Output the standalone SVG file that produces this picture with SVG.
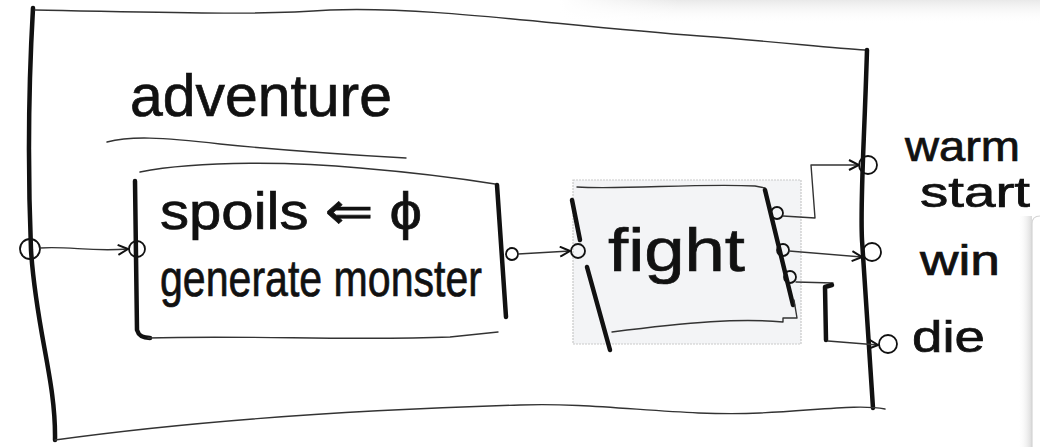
<svg xmlns="http://www.w3.org/2000/svg" width="1040" height="447" viewBox="0 0 1040 447">
<defs>
<linearGradient id="topShade" x1="0" y1="0" x2="0" y2="1">
<stop offset="0" stop-color="#e9e9e9"/>
<stop offset="1" stop-color="#ffffff" stop-opacity="0"/>
</linearGradient>
<linearGradient id="topFade" x1="0" y1="0" x2="1" y2="0">
<stop offset="0" stop-color="#fff" stop-opacity="1"/>
<stop offset="0.25" stop-color="#fff" stop-opacity="0"/>
</linearGradient>
<linearGradient id="sideShade" x1="0" y1="0" x2="1" y2="0">
<stop offset="0" stop-color="#ffffff" stop-opacity="0"/>
<stop offset="1" stop-color="#d9d9d9"/>
</linearGradient>
<marker id="arr" viewBox="0 0 12 12" refX="11" refY="6" markerWidth="12" markerHeight="12" markerUnits="userSpaceOnUse" orient="auto">
<path d="M1,1 L11,6 L1,11" fill="none" stroke="#111" stroke-width="2"/>
</marker>
<style>
.thick{fill:none;stroke:#111;stroke-width:4.5;stroke-linecap:round;stroke-linejoin:round}
.thin{fill:none;stroke:#333;stroke-width:1.4;stroke-linecap:round;stroke-linejoin:round}
.port{fill:none;stroke:#111;stroke-width:1.8}
.hand{font-family:"Liberation Sans","DejaVu Sans",sans-serif;fill:#111;stroke:#111;stroke-width:0.7}
</style>
</defs>
<rect width="1040" height="447" fill="#fff"/>
<rect x="560" y="0" width="480" height="24" fill="url(#topShade)"/>
<rect x="560" y="0" width="480" height="24" fill="url(#topFade)"/>
<rect x="1018" y="216" width="14" height="231" fill="url(#sideShade)"/>
<path d="M1032,447 L1032,224 Q1032,216 1040,216" fill="#fff" stroke="#d4d4d4" stroke-width="1.2"/>

<g id="adventure">
<path class="thick" d="M33,8 C30,60 27,150 31,250 C36,330 56,380 55,440"/>
<path class="thin" d="M35,10 C150,12 250,16 330,10 C430,6 560,26 700,36 C780,42 830,48 865,50"/>
<path class="thick" d="M867,50 C864,150 860,200 862,240 C866,300 870,360 873,408"/>
<path class="thin" d="M55,440 C200,420 350,410 520,405 C600,402 680,417 760,413 C820,410 860,404 885,409"/>
<text class="hand" x="130" y="116" font-size="60" textLength="262" lengthAdjust="spacingAndGlyphs">adventure</text>
<path class="thin" d="M107,142 C130,136 160,137 220,144 C300,152 370,156 406,158"/>
<circle id="port-in" class="port" cx="30" cy="249" r="10"/>
<circle id="port-warm" class="port" cx="868" cy="165" r="9"/>
<circle id="port-win" class="port" cx="872" cy="252" r="9"/>
<circle id="port-die" class="port" cx="888" cy="344" r="9"/>
<text class="hand" x="905" y="161" font-size="42" textLength="115" lengthAdjust="spacingAndGlyphs">warm</text>
<text class="hand" x="920" y="207" font-size="42" textLength="110" lengthAdjust="spacingAndGlyphs">start</text>
<text class="hand" x="920" y="275" font-size="42" textLength="80" lengthAdjust="spacingAndGlyphs">win</text>
<text class="hand" x="912" y="352" font-size="44" textLength="73" lengthAdjust="spacingAndGlyphs">die</text>
</g>

<g id="init">
<path class="thin" d="M140,172 C200,160 300,162 360,168 C420,173 470,180 495,184"/>
<path class="thick" d="M135,181 L137,330 C139,337 144,338 150,338"/>
<path class="thin" d="M148,338 C250,335 350,341 450,337 L498,332"/>
<path class="thick" d="M497,185 L506,317"/>
<circle class="port" cx="137" cy="249" r="8"/>
<circle class="port" cx="512" cy="254" r="6"/>
<text class="hand" x="160" y="229" font-size="52" textLength="262" lengthAdjust="spacingAndGlyphs">spoils ⇐ ϕ</text>
<text class="hand" x="160" y="296" font-size="52" textLength="322" lengthAdjust="spacingAndGlyphs">generate monster</text>
</g>

<g id="fight">
<rect x="573" y="180" width="228" height="164" fill="#f3f4f6" stroke="#c9c9c9" stroke-width="1.2" stroke-dasharray="2 1"/>
<path class="thin" d="M577,187 C620,190 700,183 755,186 L765,188"/>
<path class="thick" d="M765,190 L793,305"/>
<path class="thin" d="M794,300 L797,318 L783,318 L783,322 C740,318 690,322 612,332"/>
<path class="thick" d="M572,200 L580,240"/>
<path class="thick" d="M587,267 L610,350"/>
<circle class="port" cx="578" cy="251" r="7"/>
<circle class="port" cx="777" cy="213" r="6"/>
<circle class="port" cx="783" cy="250" r="6"/>
<circle class="port" cx="790" cy="277" r="6"/>
<text class="hand" x="608" y="271" font-size="62" textLength="137" lengthAdjust="spacingAndGlyphs">fight</text>
</g>

<g id="connectors">
<path class="thin" d="M40,248 C70,246 90,252 128,249" marker-end="url(#arr)"/>
<path class="thin" d="M518,254 L570,251" marker-end="url(#arr)"/>
<path class="thin" d="M783,216 L815,218 L811,165 L859,165" marker-end="url(#arr)"/>
<path class="thin" d="M789,251 L862,257" marker-end="url(#arr)"/>
<path class="thin" d="M796,282 L833,283"/>
<path class="thick" d="M832,285 L825,287 L826,340"/>
<path class="thin" d="M828,341 L878,345" marker-end="url(#arr)"/>
</g>
</svg>
